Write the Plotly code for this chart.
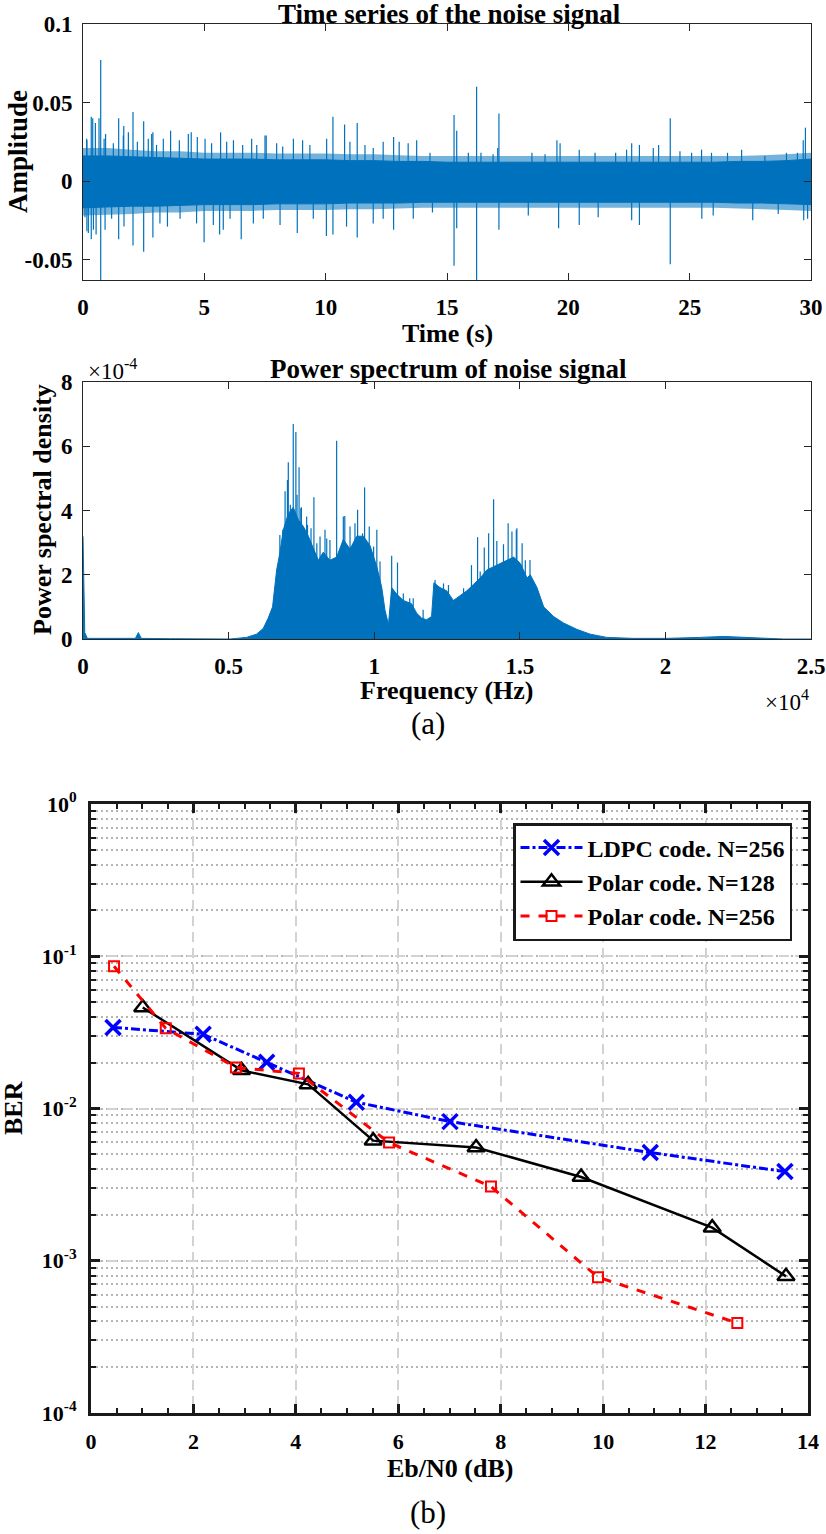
import plotly.graph_objects as go

W, H = 826, 1534
FONT = "Liberation Serif"
BLUE = "#0072BD"
FRINGE = "rgba(0,114,189,0.55)"

# ---------------- (a) time series of the noise signal ----------------
ts_time = list(range(0, 31))
ts_core_upper = [0.016, 0.016, 0.0155, 0.015, 0.0145, 0.014, 0.014, 0.014, 0.0135, 0.0135,
                 0.0135, 0.013, 0.013, 0.0125, 0.0125, 0.012, 0.012, 0.012, 0.012, 0.012,
                 0.012, 0.012, 0.012, 0.012, 0.012, 0.012, 0.012, 0.0125, 0.0125, 0.013, 0.014]
ts_core_lower = [-0.017, -0.0165, -0.016, -0.016, -0.0155, -0.015, -0.015, -0.015, -0.0145, -0.0145,
                 -0.0145, -0.014, -0.014, -0.014, -0.0135, -0.0135, -0.0135, -0.0135, -0.0135, -0.0135,
                 -0.0135, -0.0135, -0.0135, -0.0135, -0.0135, -0.0135, -0.0135, -0.014, -0.014, -0.0145, -0.015]
ts_fringe_upper = [0.021, 0.021, 0.020, 0.019, 0.019, 0.018, 0.018, 0.018, 0.0175, 0.0175,
                   0.0175, 0.017, 0.017, 0.0165, 0.016, 0.016, 0.016, 0.016, 0.016, 0.016,
                   0.016, 0.016, 0.016, 0.016, 0.016, 0.016, 0.016, 0.016, 0.0165, 0.017, 0.018]
ts_fringe_lower = [-0.022, -0.0215, -0.021, -0.020, -0.020, -0.019, -0.019, -0.019, -0.0185, -0.0185,
                   -0.0185, -0.018, -0.018, -0.0175, -0.017, -0.017, -0.017, -0.017, -0.017, -0.017,
                   -0.017, -0.017, -0.017, -0.017, -0.017, -0.017, -0.017, -0.0175, -0.018, -0.0185, -0.019]

spike_up_t = [0.15, 0.16, 0.34, 0.40, 0.51, 0.66, 0.73, 0.87, 0.93, 1.25, 1.47, 1.66, 1.68, 1.87, 2.06,
              2.24, 2.5, 2.69, 2.83, 2.88, 3.03, 3.31, 3.61, 3.97, 4.34, 4.46, 4.71, 5.03, 5.3, 5.67,
              5.92, 6.2, 6.58, 6.95, 7.16, 7.5, 7.55, 7.98, 8.23, 8.67, 9.05, 9.35, 10.04, 10.3, 10.78,
              11.0, 11.3, 11.62, 11.96, 12.37, 12.8, 13.03, 13.4, 13.75, 14.3,
              15.29, 15.4, 15.88, 16.22, 16.4, 16.9, 17.09, 17.14, 18.5, 19.04, 19.53, 19.66, 20.45,
              21.1, 21.95, 22.4, 22.61, 22.93, 23.5, 23.72, 24.2, 24.6, 25.08, 25.49, 25.9, 26.56,
              27.14, 28.1, 28.99, 29.44, 29.68, 29.77]
spike_up_a = [0.027, 0.026, 0.041, 0.040, 0.037, 0.040, 0.077, 0.027, 0.030, 0.024, 0.040, 0.029, 0.035, 0.031, 0.044,
              0.025, 0.038, 0.027, 0.030, 0.031, 0.023, 0.027, 0.032, 0.026, 0.030, 0.031, 0.028, 0.027, 0.024, 0.031,
              0.025, 0.026, 0.023, 0.027, 0.023, 0.029, 0.029, 0.024, 0.022, 0.027, 0.026, 0.023, 0.027, 0.041, 0.036,
              0.025, 0.037, 0.023, 0.021, 0.025, 0.028, 0.025, 0.024, 0.026, 0.018,
              0.042, 0.032, 0.018, 0.060, 0.018, 0.017, 0.021, 0.043, 0.018, 0.017, 0.026, 0.024, 0.020,
              0.018, 0.018, 0.020, 0.024, 0.023, 0.021, 0.023, 0.040, 0.019, 0.018, 0.020, 0.018, 0.018,
              0.020, 0.016, 0.018, 0.018, 0.026, 0.034]
spike_dn_t = [0.08, 0.16, 0.22, 0.34, 0.43, 0.54, 0.73, 0.91, 1.18, 1.47, 1.69, 2.06, 2.5, 2.88, 3.17,
              3.48, 4.0, 4.68, 4.99, 5.37, 5.63, 5.78, 6.06, 6.52, 7.02, 7.43, 8.12, 8.83, 9.49, 10.03,
              10.3, 10.86, 11.3, 11.96, 12.37, 12.8, 13.61, 14.4,
              15.29, 15.4, 16.22, 17.14, 18.35, 19.6, 20.45, 21.23, 22.61, 22.93, 24.2, 25.5, 25.97,
              27.6, 28.65, 29.7, 29.86]
spike_dn_a = [-0.023, -0.032, -0.033, -0.037, -0.031, -0.034, -0.070, -0.031, -0.024, -0.037, -0.029, -0.041, -0.045, -0.036, -0.027,
              -0.029, -0.024, -0.027, -0.039, -0.028, -0.034, -0.031, -0.024, -0.037, -0.027, -0.024, -0.028, -0.033, -0.024, -0.035,
              -0.034, -0.029, -0.036, -0.027, -0.024, -0.031, -0.024, -0.020,
              -0.054, -0.030, -0.070, -0.031, -0.022, -0.030, -0.028, -0.023, -0.025, -0.028, -0.053, -0.024, -0.022,
              -0.025, -0.021, -0.025, -0.024]

# ---------------- (a) power spectrum of the noise signal ----------------
psd_freq = [0, 60, 150, 1000, 1800, 1900, 2000, 3000, 4000, 5050, 5620, 5960, 6190, 6360, 6510, 6650, 6760,
            6880, 7050, 7220, 7400, 7570, 7740, 7910, 8080, 8250, 8480, 8710, 8940, 9170, 9400, 9630,
            9860, 10090, 10260, 10370, 10490, 10600, 10770, 11000, 11280, 11460, 11630, 11800, 11970,
            12050, 12260, 12490, 12720, 12950, 13180, 13410, 13640, 13870, 14100, 14330, 14560, 14790,
            15020, 15250, 15360, 15590, 15820, 16160, 16500, 16960, 17420, 17990, 18900, 20050, 21200,
            22000, 23260, 24060, 25000]
psd_body = [3.2e-4, 0.2e-4, 0.02e-4, 0.01e-4, 0.02e-4, 0.2e-4, 0.02e-4, 0.01e-4, 0.01e-4, 0.0, 0.05e-4, 0.15e-4, 0.33e-4, 0.65e-4, 1.0e-4, 2.15e-4, 2.68e-4,
            3.4e-4, 3.9e-4, 4.1e-4, 3.7e-4, 3.5e-4, 3.2e-4, 2.8e-4, 2.45e-4, 2.7e-4, 2.45e-4, 2.55e-4, 3.1e-4, 2.8e-4, 3.2e-4, 3.2e-4,
            2.9e-4, 2.25e-4, 1.6e-4, 0.9e-4, 0.45e-4, 1.6e-4, 1.4e-4, 1.2e-4, 1.1e-4, 0.8e-4, 0.65e-4, 0.6e-4, 0.7e-4,
            1.75e-4, 1.6e-4, 1.5e-4, 1.2e-4, 1.35e-4, 1.5e-4, 1.7e-4, 1.9e-4, 2.15e-4, 2.25e-4, 2.35e-4, 2.45e-4, 2.55e-4,
            2.35e-4, 1.9e-4, 2.0e-4, 1.6e-4, 1.0e-4, 0.7e-4, 0.5e-4, 0.3e-4, 0.15e-4, 0.05e-4, 0.02e-4, 0.02e-4, 0.05e-4,
            0.08e-4, 0.03e-4, 0.0, 0.0]
psd_spike_f = [6760, 6860, 6940, 7020, 7050, 7120, 7220, 7310, 7350, 7420, 7480, 7500, 7680, 7710, 7830,
               7930, 8030, 8140, 8310, 8370, 8480, 8710, 8940, 8990, 9170, 9340, 9430, 9600, 9670, 9830,
               9980, 10090, 10200, 10600, 10800, 11000, 11220, 11340, 11680, 12090, 12380, 12550, 13070,
               13340, 13550, 13640, 13780, 13930, 14100, 14210, 14440, 14600, 14730, 14880, 14900,
               15080, 15190, 15350]
psd_spike_v = [3.24e-4, 3.4e-4, 4.6e-4, 4.95e-4, 5.5e-4, 4.18e-4, 6.69e-4, 6.44e-4, 4.49e-4, 5.35e-4, 4.07e-4, 4.1e-4, 3.81e-4, 3.55e-4, 3.45e-4,
               4.41e-4, 2.98e-4, 3.19e-4, 3.4e-4, 3.13e-4, 3.08e-4, 6.17e-4, 3.81e-4, 3.83e-4, 3.5e-4, 3.6e-4, 4.02e-4, 3.29e-4, 4.72e-4, 3.5e-4,
               2.88e-4, 3.4e-4, 2.41e-4, 2.59e-4, 2.38e-4, 1.42e-4, 1.27e-4, 1.27e-4, 0.91e-4, 1.84e-4, 1.73e-4, 1.68e-4, 1.58e-4,
               2.3e-4, 3.17e-4, 2.1e-4, 2.85e-4, 3.29e-4, 4.35e-4, 3.05e-4, 2.95e-4, 3.6e-4, 3.35e-4, 3.4e-4, 3.45e-4,
               2.98e-4, 2.45e-4, 2.46e-4]

# ---------------- (b) BER curves ----------------
ldpc_x = [0.43, 2.19, 3.43, 5.18, 7.01, 10.92, 13.55]
ldpc_y = [0.0341, 0.0307, 0.0201, 0.0110, 0.0082, 0.00514, 0.00385]
p128_x = [1.01, 2.94, 4.24, 5.51, 7.52, 9.57, 12.13, 13.57]
p128_y = [0.0461, 0.0178, 0.0144, 0.00615, 0.00555, 0.00355, 0.00165, 0.00079]
p256_x = [0.45, 1.46, 2.83, 4.06, 5.82, 7.81, 9.90, 12.62]
p256_y = [0.0859, 0.0336, 0.0186, 0.0170, 0.00597, 0.00307, 0.00078, 0.00039]

series_names = ["LDPC code. N=256", "Polar code. N=128", "Polar code. N=256"]

ts_ticks = [0, 5, 10, 15, 20, 25, 30]
amp_ticks = [-0.05, 0, 0.05, 0.1]
amp_labels = ["-0.05", "0", "0.05", "0.1"]
freq_ticks = [0, 5000, 10000, 15000, 20000, 25000]
freq_labels = ["0", "0.5", "1", "1.5", "2", "2.5"]
psd_ticks = [0, 2e-4, 4e-4, 6e-4, 8e-4]
psd_labels = ["0", "2", "4", "6", "8"]
ebn0_ticks = [0, 2, 4, 6, 8, 10, 12, 14]
ber_tickvals = [1e-4, 1e-3, 1e-2, 1e-1, 1]
ber_ticktext = ["10<sup>-4</sup>", "10<sup>-3</sup>", "10<sup>-2</sup>", "10<sup>-1</sup>", "10<sup>0</sup>"]


def px(x):
    return x / W


def py(y):
    return 1 - y / H


def b(s):
    return "<b>" + s + "</b>"


def segments(xs, ys):
    sx, sy = [], []
    for a, v in zip(xs, ys):
        sx += [a, a, None]
        sy += [0, v, None]
    return sx, sy


fig = go.Figure()

fig.add_trace(go.Scatter(x=ts_time + ts_time[::-1], y=ts_fringe_upper + ts_fringe_lower[::-1],
                         fill="toself", fillcolor=FRINGE, mode="lines", line=dict(width=0),
                         showlegend=False, xaxis="x", yaxis="y", hoverinfo="skip"))
fig.add_trace(go.Scatter(x=ts_time + ts_time[::-1], y=ts_core_upper + ts_core_lower[::-1],
                         fill="toself", fillcolor=BLUE, mode="lines", line=dict(color=BLUE, width=1),
                         showlegend=False, xaxis="x", yaxis="y", hoverinfo="skip"))
sx, sy = segments(spike_up_t + spike_dn_t, spike_up_a + spike_dn_a)
fig.add_trace(go.Scatter(x=sx, y=sy, mode="lines", line=dict(color=BLUE, width=1.2),
                         showlegend=False, xaxis="x", yaxis="y", hoverinfo="skip"))

fig.add_trace(go.Scatter(x=psd_freq, y=psd_body, fill="tozeroy", fillcolor=BLUE, mode="lines",
                         line=dict(color=BLUE, width=1), showlegend=False, xaxis="x2", yaxis="y2",
                         hoverinfo="skip"))
sx, sy = segments(psd_spike_f, psd_spike_v)
fig.add_trace(go.Scatter(x=sx, y=sy, mode="lines", line=dict(color=BLUE, width=1.2),
                         showlegend=False, xaxis="x2", yaxis="y2", hoverinfo="skip"))

fig.add_trace(go.Scatter(x=ldpc_x, y=ldpc_y, name=b(series_names[0]), mode="lines+markers",
                         line=dict(color="#0000FF", width=3, dash="dashdot"),
                         marker=dict(symbol="x-thin", size=15, line=dict(color="#0000FF", width=3.5)),
                         xaxis="x3", yaxis="y3"))
fig.add_trace(go.Scatter(x=p128_x, y=p128_y, name=b(series_names[1]), mode="lines+markers",
                         line=dict(color="#000000", width=2.5),
                         marker=dict(symbol="triangle-up-open", size=15, color="#000000",
                                     line=dict(color="#000000", width=2.5)),
                         xaxis="x3", yaxis="y3"))
fig.add_trace(go.Scatter(x=p256_x, y=p256_y, name=b(series_names[2]), mode="lines+markers",
                         line=dict(color="#FF0000", width=3, dash="dash"),
                         marker=dict(symbol="square-open", size=10, color="#FF0000",
                                     line=dict(color="#FF0000", width=2)),
                         xaxis="x3", yaxis="y3"))

tickfont_a = dict(family=FONT, size=23, color="black")
tickfont_b = dict(family=FONT, size=22, color="black")
ax_common = dict(showline=True, linecolor="#262626", linewidth=1, mirror="ticks", ticks="inside",
                 ticklen=7, tickcolor="#262626", showgrid=False, zeroline=False, tickfont=tickfont_a,
                 automargin=False)

fig.update_layout(
    template="none",
    width=W, height=H, margin=dict(l=0, r=0, t=0, b=0, pad=0),
    paper_bgcolor="white", plot_bgcolor="white",
    xaxis=dict(domain=[px(83), px(811)], anchor="y", range=[0, 30],
               tickvals=ts_ticks, ticktext=[b(str(t)) for t in ts_ticks],
               ticklabelstandoff=6, **ax_common),
    yaxis=dict(domain=[py(280), py(24)], anchor="x", range=[-0.063, 0.1],
               tickvals=amp_ticks, ticktext=[b(s) for s in amp_labels],
               ticklabelstandoff=5, **ax_common),
    xaxis2=dict(domain=[px(83), px(811)], anchor="y2", range=[0, 25000],
                tickvals=freq_ticks, ticktext=[b(s) for s in freq_labels],
                ticklabelstandoff=6, **ax_common),
    yaxis2=dict(domain=[py(639), py(382)], anchor="x2", range=[0, 8e-4],
                tickvals=psd_ticks, ticktext=[b(s) for s in psd_labels],
                ticklabelstandoff=5, **ax_common),
    xaxis3=dict(domain=[px(91), px(808)], anchor="y3", range=[0, 14],
                tickvals=ebn0_ticks, ticktext=[b(str(t)) for t in ebn0_ticks],
                showline=True, linecolor="#1a1a1a", linewidth=3, mirror="allticks",
                ticks="inside", ticklen=9, tickwidth=2.5, tickcolor="#1a1a1a",
                showgrid=True, gridcolor="#d2d2d2", gridwidth=2, griddash="10px,6px",
                minor=dict(dtick=0.5, ticks="inside", ticklen=5, tickwidth=2, tickcolor="#1a1a1a",
                           showgrid=False),
                zeroline=False, tickfont=tickfont_b, ticklabelstandoff=7, automargin=False),
    yaxis3=dict(domain=[py(1413), py(804)], anchor="x3", type="log", range=[-4, 0],
                tickvals=ber_tickvals, ticktext=[b(s) for s in ber_ticktext],
                showline=True, linecolor="#1a1a1a", linewidth=3, mirror="allticks",
                ticks="inside", ticklen=9, tickwidth=2.5, tickcolor="#1a1a1a",
                showgrid=True, gridcolor="#d2d2d2", gridwidth=2, griddash="10px,6px",
                minor=dict(dtick="D1", ticks="inside", ticklen=5, tickwidth=2, tickcolor="#1a1a1a",
                           showgrid=True, gridcolor="#b5b5b5", gridwidth=2, griddash="2px,3px"),
                zeroline=False, tickfont=tickfont_b, ticklabelstandoff=7, automargin=False),
    legend=dict(x=px(792), xanchor="right", y=py(823), yanchor="top",
                bgcolor="white", bordercolor="#1a1a1a", borderwidth=2.5,
                font=dict(family=FONT, size=24, color="black"),
                itemwidth=62, tracegroupgap=0),
)

title_font = dict(family=FONT, size=27, color="black")
label_font = dict(family=FONT, size=26, color="black")
ann = [
    dict(text=b("Time series of the noise signal"), x=px(449), y=py(14), font=title_font),
    dict(text=b("Time (s)"), x=px(447), y=py(333), font=label_font),
    dict(text=b("Amplitude"), x=px(18), y=py(152), font=title_font, textangle=-90),
    dict(text=b("Power spectrum of noise signal"), x=px(448), y=py(369), font=title_font),
    dict(text=b("Frequency (Hz)"), x=px(447), y=py(690), font=label_font),
    dict(text=b("Power spectral density"), x=px(42), y=py(510), font=label_font, textangle=-90),
    dict(text="×10<sup>-4</sup>", x=px(86), y=py(369), xanchor="left",
         font=dict(family=FONT, size=23, color="black")),
    dict(text="×10<sup>4</sup>", x=px(811), y=py(700), xanchor="right",
         font=dict(family=FONT, size=23, color="black")),
    dict(text="(a)", x=px(428), y=py(723), font=dict(family=FONT, size=31, color="black")),
    dict(text=b("BER"), x=px(13), y=py(1108), font=label_font, textangle=-90),
    dict(text=b("Eb/N0 (dB)"), x=px(450), y=py(1468), font=label_font),
    dict(text="(b)", x=px(428), y=py(1512), font=dict(family=FONT, size=31, color="black")),
]
for a in ann:
    a.setdefault("xanchor", "center")
    fig.add_annotation(xref="paper", yref="paper", showarrow=False, yanchor="middle", **a)

fig.write_html("out.html", config={"displayModeBar": False},
               post_script="document.body.style.margin='0px';")
